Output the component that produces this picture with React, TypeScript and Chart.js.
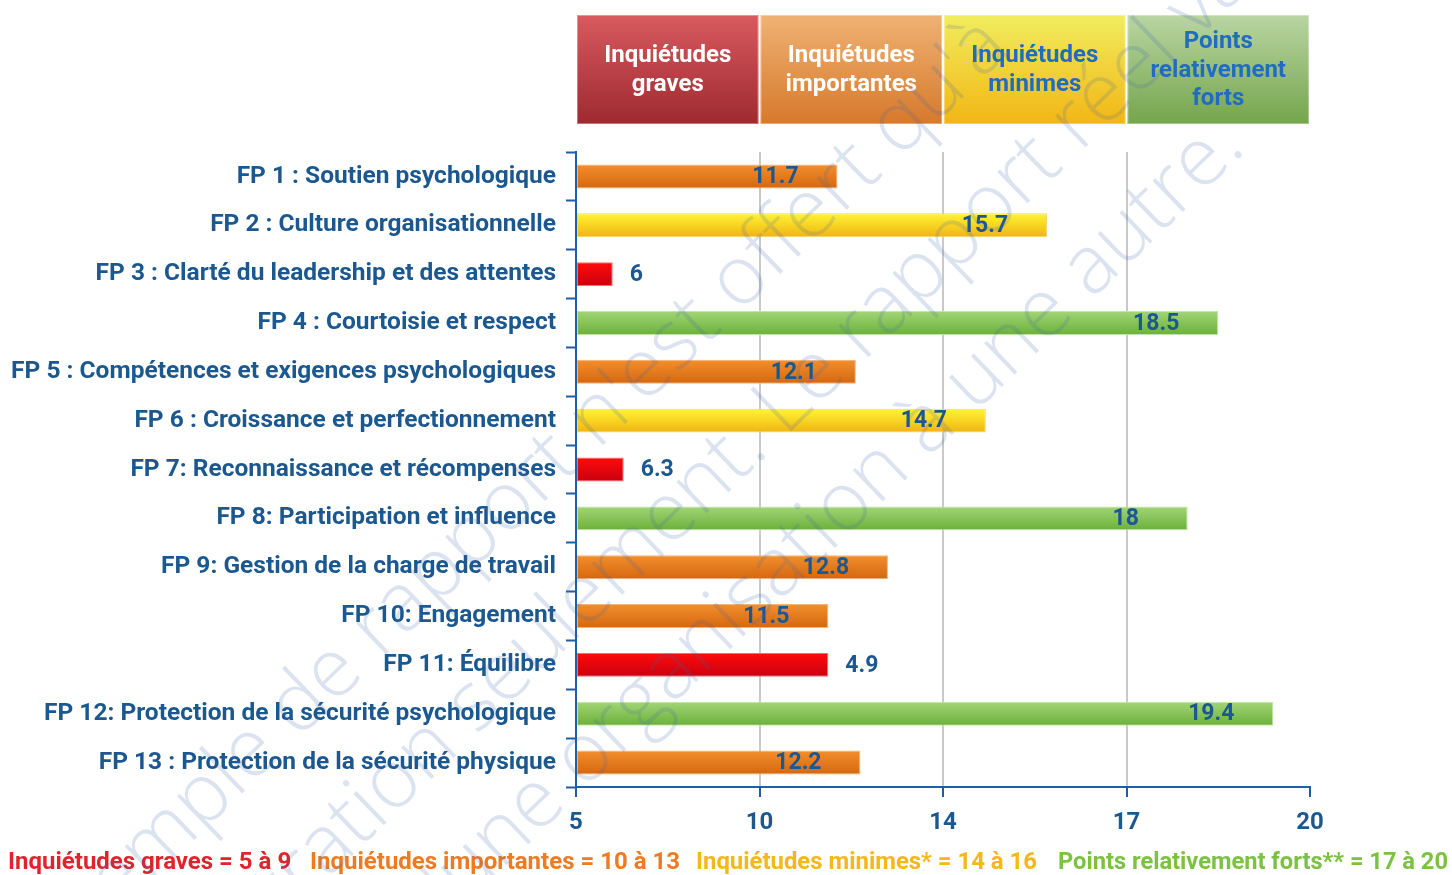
import React, { useEffect, useRef } from "react";
import { Chart, registerables } from "chart.js";

Chart.register(...registerables);

// ---------------- data ----------------
const factors = [
  "FP 1 : Soutien psychologique",
  "FP 2 : Culture organisationnelle",
  "FP 3 : Clarté du leadership et des attentes",
  "FP 4 : Courtoisie et respect",
  "FP 5 : Compétences et exigences psychologiques",
  "FP 6 : Croissance et perfectionnement",
  "FP 7: Reconnaissance et récompenses",
  "FP 8: Participation et influence",
  "FP 9: Gestion de la charge de travail",
  "FP 10: Engagement",
  "FP 11: Équilibre",
  "FP 12: Protection de la sécurité psychologique",
  "FP 13 : Protection de la sécurité physique",
];
// displayed scores
const scores = [11.7, 15.7, 6, 18.5, 12.1, 14.7, 6.3, 18, 12.8, 11.5, 4.9, 19.4, 12.2];
// where each bar ends (FP 11 is drawn as long as FP 10)
const barLengths = [11.7, 15.7, 6, 18.5, 12.1, 14.7, 6.3, 18, 12.8, 11.5, 11.5, 19.4, 12.2];
// axis tick labels (evenly spaced bands)
const scaleBreaks = [5, 10, 14, 17, 20];
const bandTitles = [
  ["Inquiétudes", "graves"],
  ["Inquiétudes", "importantes"],
  ["Inquiétudes", "minimes"],
  ["Points", "relativement", "forts"],
];
const legendTexts = [
  "Inquiétudes graves = 5 à 9",
  "Inquiétudes importantes = 10 à 13",
  "Inquiétudes minimes* = 14 à 16",
  "Points relativement forts** = 17 à 20",
];
const watermarkLines = [
  "Cet exemple de rapport n'est offert qu'à",
  "titre d'illustration seulement. Le rapport réel varie",
  "d'une organisation à une autre.",
];

// ---------------- helpers ----------------
function toAxis(v: number): number {
  for (let i = 0; i < scaleBreaks.length - 1; i++) {
    const a = scaleBreaks[i];
    const b = scaleBreaks[i + 1];
    if (v <= b || i === scaleBreaks.length - 2) return i + (v - a) / (b - a);
  }
  return 0;
}
function bandOf(v: number): number {
  if (v < 10) return 0;
  if (v < 14) return 1;
  if (v < 17) return 2;
  return 3;
}

const barStyles = [
  { top: "#ff0b0b", bottom: "#c9000f", border: "#ff6a6a" },
  { top: "#f28f2e", bottom: "#d5670f", border: "#f7b274" },
  { top: "#fff535", bottom: "#f0b312", border: "#f8d868" },
  { top: "#a3d577", bottom: "#6ab13a", border: "#c3e6a4" },
];
const headerStyles = [
  { top: "#d95a5f", bottom: "#9d2a30", text: "#ffffff" },
  { top: "#efb274", bottom: "#d6792b", text: "#ffffff" },
  { top: "#f1ed5e", bottom: "#f2b615", text: "#1f6cc0" },
  { top: "#b9d5a3", bottom: "#74a54c", text: "#1f6cc0" },
];
const legendColors = ["#e1232b", "#ee7b22", "#f5b71a", "#7bc142"];

const FONT = 'Roboto, "Liberation Sans", Arial, sans-serif';
const BLUE = "#1d5fa6";
const LABEL_BLUE = "#1c5890";

export default function App() {
  const ref = useRef<HTMLCanvasElement>(null);

  useEffect(() => {
    const canvas = ref.current;
    if (!canvas) return;
    const nRows = factors.length;
    const BAR_PCT = 0.49;

    const barFill = (c: any) => {
      const st = barStyles[bandOf(scores[c.dataIndex] ?? 10)];
      const chart = c.chart;
      const ys = chart.scales && chart.scales.y;
      if (!ys || c.dataIndex == null || !(ys.bottom > ys.top)) return st.top;
      const yc = ys.getPixelForValue(c.dataIndex);
      const h = ((ys.bottom - ys.top) / nRows) * BAR_PCT;
      const g = chart.ctx.createLinearGradient(0, yc - h / 2, 0, yc + h / 2);
      g.addColorStop(0, st.top);
      g.addColorStop(1, st.bottom);
      return g;
    };

    const decor = {
      id: "decor",
      afterDatasetsDraw(chart: any) {
        const ctx = chart.ctx;
        const meta = chart.getDatasetMeta(0);
        ctx.save();
        ctx.font = `bold 23px ${FONT}`;
        ctx.fillStyle = LABEL_BLUE;
        ctx.textBaseline = "middle";
        meta.data.forEach((bar: any, i: number) => {
          const v = scores[i];
          const txt = String(v);
          if (bandOf(v) === 0) {
            ctx.textAlign = "left";
            ctx.fillText(txt, bar.x + 17, bar.y + 1);
          } else {
            ctx.textAlign = "center";
            ctx.fillText(txt, bar.x - 62, bar.y + 1);
          }
        });
        ctx.restore();
      },
      afterDraw(chart: any) {
        const ctx = chart.ctx;
        const xs = chart.scales.x;
        // header boxes above the bands
        ctx.save();
        const top = 15;
        const bottom = 124;
        bandTitles.forEach((lines, i) => {
          const x0 = xs.getPixelForValue(i) + 1;
          const x1 = xs.getPixelForValue(i + 1) - 1;
          const st = headerStyles[i];
          const g = ctx.createLinearGradient(0, top, 0, bottom);
          g.addColorStop(0, st.top);
          g.addColorStop(1, st.bottom);
          ctx.fillStyle = g;
          ctx.fillRect(x0, top, x1 - x0, bottom - top);
          ctx.strokeStyle = "rgba(255,255,255,0.35)";
          ctx.lineWidth = 1;
          ctx.strokeRect(x0 + 0.5, top + 0.5, x1 - x0 - 1, bottom - top - 1);
          ctx.fillStyle = st.text;
          ctx.font = `bold 24px ${FONT}`;
          ctx.textAlign = "center";
          ctx.textBaseline = "middle";
          const lh = 28.5;
          const cy = (top + bottom) / 2 - ((lines.length - 1) * lh) / 2;
          lines.forEach((t, k) => ctx.fillText(t, (x0 + x1) / 2, cy + k * lh + 1));
        });
        ctx.restore();

        // bottom legend text
        ctx.save();
        ctx.font = `bold 24px ${FONT}`;
        ctx.textAlign = "left";
        ctx.textBaseline = "middle";
        const starts = [8, 310, 696, 1058];
        const ends = [298, 682, 1037, 1448];
        legendTexts.forEach((t, i) => {
          ctx.fillStyle = legendColors[i];
          ctx.fillText(t, starts[i], 863, ends[i] - starts[i]);
        });
        ctx.restore();

        // watermark
        ctx.save();
        const ang = (-44 * Math.PI) / 180;
        ctx.font = `300 82px "Open Sans", "DejaVu Sans", sans-serif`;
        ctx.fillStyle = "rgba(60,100,170,0.18)";
        ctx.textAlign = "left";
        ctx.textBaseline = "alphabetic";
        const anchors = [
          { prefix: "Cet exemple de rapport ", x: 598, y: 450 },
          { prefix: "titre d'illustration seulement.", x: 770, y: 452 },
          { prefix: "d'une organisation à une autre.", x: 1247, y: 150 },
        ];
        watermarkLines.forEach((t, i) => {
          const a = anchors[i];
          const off = ctx.measureText(a.prefix).width;
          ctx.save();
          ctx.translate(a.x, a.y);
          ctx.rotate(ang);
          ctx.fillText(t, -off, 0);
          ctx.restore();
        });
        ctx.restore();
      },
    };

    const chart = new Chart(canvas, {
      type: "bar",
      data: {
        labels: factors,
        datasets: [
          {
            data: barLengths.map(toAxis),
            backgroundColor: barFill,
            borderColor: (c: any) => barStyles[bandOf(scores[c.dataIndex] ?? 10)].border,
            borderWidth: 1,
            borderSkipped: false,
            barPercentage: BAR_PCT,
            categoryPercentage: 1,
          },
        ],
      },
      options: {
        indexAxis: "y",
        responsive: false,
        animation: false,
        devicePixelRatio: 1,
        layout: { padding: { top: 152, right: 142, left: 0, bottom: 0 } },
        plugins: {
          legend: { display: false },
          tooltip: { enabled: false },
          title: { display: false },
        },
        scales: {
          x: {
            type: "linear",
            min: 0,
            max: scaleBreaks.length - 1,
            ticks: {
              stepSize: 1,
              callback: (v: any) => (scaleBreaks[v] !== undefined ? String(scaleBreaks[v]) : ""),
              color: LABEL_BLUE,
              font: { family: FONT, size: 24, weight: "bold" },
              padding: 12,
              maxRotation: 0,
            },
            grid: {
              color: (c: any) => (c.index > 0 && c.index < scaleBreaks.length - 1 ? "#c9c9c9" : "rgba(0,0,0,0)"),
              lineWidth: 2,
              drawTicks: true,
              tickLength: 10,
              tickColor: BLUE,
              tickWidth: 2,
            },
            border: { display: true, color: BLUE, width: 2 },
            afterFit: (s: any) => {
              s.height = 88;
            },
          },
          y: {
            type: "category",
            offset: true,
            ticks: {
              color: LABEL_BLUE,
              font: { family: FONT, size: 24.5, weight: "bold" },
              padding: 10,
              autoSkip: false,
            },
            grid: {
              offset: true,
              drawOnChartArea: false,
              drawTicks: true,
              tickLength: 10,
              tickColor: BLUE,
              tickWidth: 2,
            },
            border: { display: true, color: BLUE, width: 2 },
            afterFit: (s: any) => {
              s.width = 576;
            },
          },
        },
      },
      plugins: [decor],
    } as any);

    return () => chart.destroy();
  }, []);

  return (
    <div style={{ position: "absolute", left: 0, top: 0, width: 1452, height: 875, background: "#ffffff" }}>
      <canvas ref={ref} width={1452} height={875} style={{ display: "block", width: 1452, height: 875 }} />
    </div>
  );
}
